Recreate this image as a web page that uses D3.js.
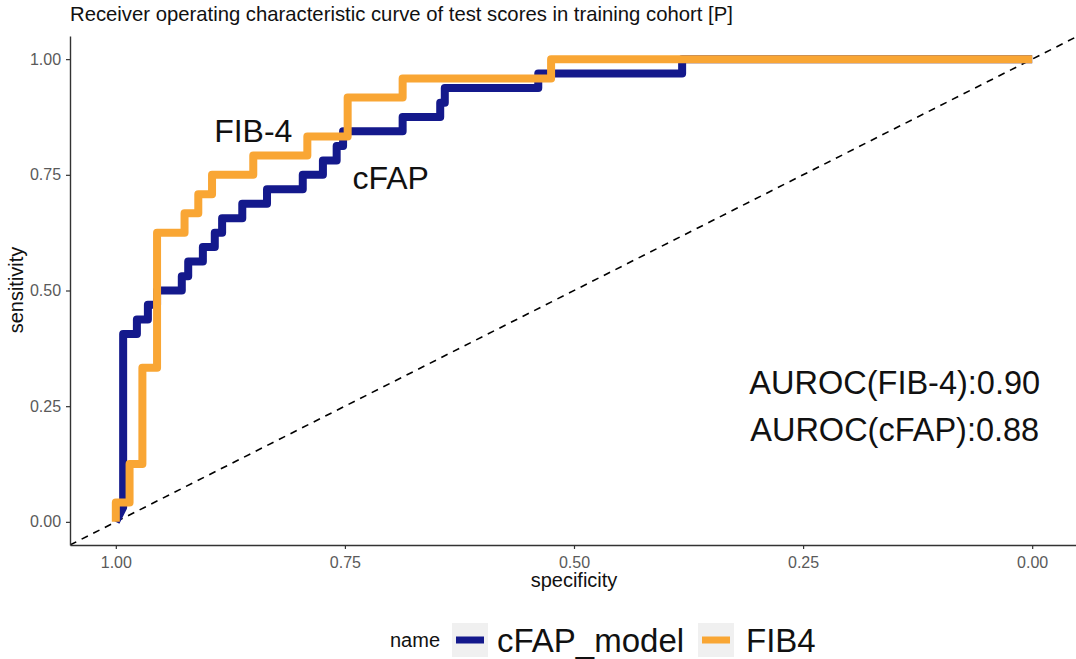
<!DOCTYPE html>
<html>
<head>
<meta charset="utf-8">
<script src="https://cdn.jsdelivr.net/npm/d3@7"></script>
<style>
  html, body { margin: 0; padding: 0; background: #fff; }
  svg { display: block; font-family: "Liberation Sans", Arial, Helvetica, sans-serif; }
</style>
</head>
<body>
<svg id="chart" width="1076" height="659"></svg>
<script>
// ---- data ----
const seriesNames = ["cFAP_model", "FIB4"];
const seriesColors = ["#14198c", "#f9a634"];

// ROC corner points (specificity, sensitivity), in path order
const cfapSpec = [1, 0.992, 0.992, 0.977, 0.977, 0.965, 0.965, 0.955, 0.955, 0.928, 0.928, 0.921, 0.921, 0.905, 0.905, 0.892, 0.892, 0.884, 0.884, 0.862, 0.862, 0.835, 0.835, 0.796, 0.796, 0.774, 0.774, 0.759, 0.759, 0.752, 0.752, 0.687, 0.687, 0.646, 0.646, 0.641, 0.641, 0.539, 0.539, 0.382, 0.382, 0];
const cfapSens = [0, 0.031, 0.406, 0.406, 0.4375, 0.4375, 0.469, 0.469, 0.5, 0.5, 0.531, 0.531, 0.5625, 0.5625, 0.594, 0.594, 0.625, 0.625, 0.656, 0.656, 0.6875, 0.6875, 0.719, 0.719, 0.75, 0.75, 0.781, 0.781, 0.8125, 0.8125, 0.844, 0.844, 0.875, 0.875, 0.906, 0.906, 0.9375, 0.9375, 0.969, 0.969, 1, 1];

const fib4Spec = [1, 1, 0.985, 0.985, 0.971, 0.971, 0.955, 0.955, 0.925, 0.925, 0.910, 0.910, 0.895, 0.895, 0.850, 0.850, 0.791, 0.791, 0.747, 0.747, 0.687, 0.687, 0.525, 0.525, 0];
const fib4Sens = [0, 0.042, 0.042, 0.125, 0.125, 0.333, 0.333, 0.625, 0.625, 0.667, 0.667, 0.708, 0.708, 0.75, 0.75, 0.792, 0.792, 0.833, 0.833, 0.917, 0.917, 0.958, 0.958, 1, 1];

const tickValues = [1.00, 0.75, 0.50, 0.25, 0.00];
const titleText = "Receiver operating characteristic curve of test scores in training cohort [P]";
const xTitle = "specificity";
const yTitle = "sensitivity";
const legendTitle = "name";
// annotations: [text, specificity, sensitivity]
const curveLabels = [["FIB-4", 0.85, 0.845], ["cFAP", 0.70, 0.743]];
const aurocLines = ["AUROC(FIB-4):0.90", "AUROC(cFAP):0.88"];
const aurocPos = [0.15, 0.25];

// ---- layout ----
const svg = d3.select("#chart");
const x = d3.scaleLinear().domain([1.05, -0.05]).range([70, 1078]);
const y = d3.scaleLinear().domain([-0.05, 1.05]).range([545, 36]);

svg.append("defs").append("clipPath").attr("id", "panel")
  .append("rect").attr("x", 70).attr("y", 36).attr("width", 1008).attr("height", 509);

const plot = svg.append("g").attr("clip-path", "url(#panel)");

// diagonal reference line
plot.append("line")
  .attr("x1", x(1.05)).attr("y1", y(-0.05))
  .attr("x2", x(-0.05)).attr("y2", y(1.05))
  .attr("stroke", "#000").attr("stroke-width", 1.6)
  .attr("stroke-dasharray", "7,6");

const line = d3.line().x(d => x(d[0])).y(d => y(d[1]));
const series = [
  d3.zip(cfapSpec, cfapSens),
  d3.zip(fib4Spec, fib4Sens)
];
series.forEach((pts, i) => {
  plot.append("path").datum(pts)
    .attr("d", line)
    .attr("fill", "none")
    .attr("stroke", seriesColors[i])
    .attr("stroke-width", 8)
    .attr("stroke-linejoin", "round")
    .attr("stroke-linecap", "butt");
});

// axes
const fmt = d3.format(".2f");
const xAxis = svg.append("g").attr("transform", `translate(0,545)`)
  .call(d3.axisBottom(x).tickValues(tickValues).tickFormat(fmt).tickSize(4).tickSizeOuter(0));
const yAxis = svg.append("g").attr("transform", `translate(70,0)`)
  .call(d3.axisLeft(y).tickValues(tickValues).tickFormat(fmt).tickSize(4).tickSizeOuter(0));
[xAxis, yAxis].forEach(a => {
  a.select(".domain").attr("stroke", "#333").attr("stroke-width", 1.4);
  a.selectAll(".tick line").attr("stroke", "#333").attr("stroke-width", 1.2);
  a.selectAll(".tick text").attr("fill", "#5a5a5a").attr("font-size", 16)
    .attr("font-family", "Liberation Sans, Arial, sans-serif");
});
xAxis.selectAll(".tick text").attr("dy", "1.0em");
yAxis.selectAll(".tick text").attr("dx", "-0.12em");

// titles
svg.append("text").attr("x", 70).attr("y", 21)
  .attr("font-size", 20.3).attr("fill", "#111").text(titleText);
svg.append("text").attr("x", 574).attr("y", 587)
  .attr("text-anchor", "middle").attr("font-size", 20).attr("fill", "#111").text(xTitle);
svg.append("text").attr("transform", "translate(23,290) rotate(-90)")
  .attr("text-anchor", "middle").attr("font-size", 20).attr("fill", "#111").text(yTitle);

// curve labels
curveLabels.forEach(([t, sx, sy]) => {
  svg.append("text").attr("x", x(sx)).attr("y", y(sy))
    .attr("text-anchor", "middle").attr("dominant-baseline", "central")
    .attr("font-size", 32).attr("fill", "#111").text(t);
});
const aur = svg.append("text").attr("x", x(aurocPos[0])).attr("y", y(aurocPos[1]))
  .attr("text-anchor", "middle").attr("font-size", 32.5).attr("fill", "#111");
aurocLines.forEach((t, i) => {
  aur.append("tspan").attr("x", x(aurocPos[0]))
    .attr("y", y(aurocPos[1]) + (i === 0 ? -12 : 35)).text(t);
});

// legend
const lg = svg.append("g").attr("transform", "translate(0,640)");
lg.append("text").attr("x", 390).attr("y", 0).attr("dominant-baseline", "central")
  .attr("font-size", 20).attr("fill", "#111").text(legendTitle);
const keyX = [452, 698];
const labX = [497, 746];
seriesNames.forEach((n, i) => {
  lg.append("rect").attr("x", keyX[i]).attr("y", -17).attr("width", 36).attr("height", 34).attr("fill", "#f0f0f0");
  lg.append("line").attr("x1", keyX[i] + 4).attr("x2", keyX[i] + 32).attr("y1", 0).attr("y2", 0)
    .attr("stroke", seriesColors[i]).attr("stroke-width", 7);
  lg.append("text").attr("x", labX[i]).attr("y", 0).attr("dominant-baseline", "central")
    .attr("font-size", 33).attr("fill", "#111").text(n);
});
</script>
</body>
</html>
